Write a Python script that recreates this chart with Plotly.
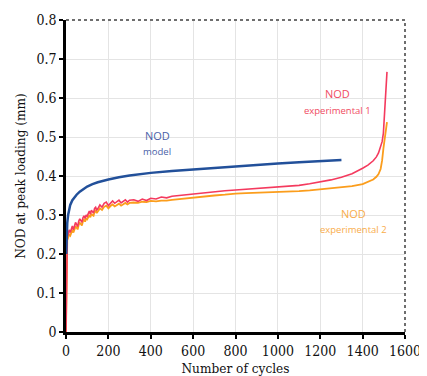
import plotly.graph_objects as go

# ---- data ----
model_cycles = [1, 3, 6, 10, 15, 20, 30, 40, 50, 65, 80, 100, 125, 150, 200, 250, 300,
                400, 500, 600, 700, 800, 900, 1000, 1100, 1200, 1300]
model_nod = [0.20, 0.25, 0.28, 0.30, 0.315, 0.326, 0.338, 0.346, 0.352, 0.36, 0.366, 0.373,
             0.379, 0.384, 0.391, 0.397, 0.401, 0.408, 0.413, 0.417, 0.421, 0.424, 0.428,
             0.432, 0.435, 0.438, 0.441]

exp_cycles = [0, 3, 6, 10, 15, 20, 25, 30, 35, 40, 45, 50, 55, 60, 65, 70, 75, 80, 85, 90,
              95, 100, 105, 110, 115, 120, 125, 130, 135, 140, 145, 150, 160, 170, 180, 190,
              200, 210, 220, 230, 240, 250, 260, 270, 280, 290, 300, 320, 340, 360, 380, 400,
              425, 450, 475, 500, 550, 600, 650, 700, 750, 800, 850, 900, 950, 1000, 1050,
              1100, 1150, 1200, 1250, 1300, 1350, 1400, 1425, 1450, 1465, 1475, 1485, 1492,
              1498, 1503, 1507, 1511, 1515]

exp1_nod = [0, 0.18, 0.245, 0.25,
            0.262, 0.255, 0.266, 0.272, 0.262, 0.27, 0.281, 0.276, 0.27, 0.284, 0.29, 0.286,
            0.281, 0.293, 0.298, 0.291, 0.3, 0.297, 0.306, 0.31, 0.302, 0.312, 0.308, 0.305,
            0.317, 0.32, 0.313, 0.316, 0.326, 0.32, 0.33, 0.333, 0.324, 0.331, 0.336, 0.33,
            0.334, 0.338, 0.331, 0.336, 0.339, 0.333, 0.338,
            0.339, 0.335, 0.341, 0.337, 0.343, 0.341, 0.346, 0.344, 0.348, 0.351, 0.354, 0.357,
            0.36, 0.362, 0.364, 0.366, 0.367, 0.369, 0.371, 0.373, 0.376, 0.38, 0.385, 0.39,
            0.397, 0.406, 0.42, 0.428, 0.439, 0.449, 0.459, 0.473, 0.488, 0.51, 0.55, 0.59,
            0.63, 0.667]

exp2_nod = [0, 0.17, 0.235, 0.242,
            0.25, 0.247, 0.257, 0.262, 0.255, 0.262, 0.27, 0.268, 0.263, 0.275, 0.28, 0.277,
            0.273, 0.284, 0.288, 0.283, 0.291, 0.289, 0.296, 0.3, 0.294, 0.303, 0.3, 0.298,
            0.308, 0.311, 0.305, 0.309, 0.317, 0.313, 0.321, 0.324, 0.317, 0.323, 0.327, 0.322,
            0.326, 0.329, 0.324, 0.328, 0.331, 0.327, 0.331,
            0.332, 0.331, 0.334, 0.333, 0.336, 0.335, 0.337, 0.337, 0.339, 0.342, 0.345, 0.347,
            0.35, 0.352, 0.355, 0.356, 0.357, 0.357, 0.358, 0.359, 0.361, 0.363, 0.366, 0.368,
            0.371, 0.374, 0.379, 0.384, 0.391, 0.398, 0.405, 0.418, 0.44, 0.47, 0.49, 0.51,
            0.53, 0.538]

x_ticks = [0, 200, 400, 600, 800, 1000, 1200, 1400, 1600]
y_ticks = [0, 0.1, 0.2, 0.3, 0.4, 0.5, 0.6, 0.7, 0.8]

BLUE = "#22509a"
RED = "#f43a5e"
ORANGE = "#fb9d1c"

fig = go.Figure()
fig.add_trace(go.Scatter(x=exp_cycles, y=exp2_nod, mode="lines",
                         line=dict(color=ORANGE, width=1.8), showlegend=False))
fig.add_trace(go.Scatter(x=exp_cycles, y=exp1_nod, mode="lines",
                         line=dict(color=RED, width=1.6), showlegend=False))
fig.add_trace(go.Scatter(x=model_cycles, y=model_nod, mode="lines",
                         line=dict(color=BLUE, width=2.5), showlegend=False))

sans = "Open Sans, Noto Sans, sans-serif"
notes = [
    ("NOD", 430, 0.505, 11, "#4a5fa8"),
    ("model", 430, 0.462, 9.5, "#4a5fa8"),
    ("NOD", 1280, 0.612, 11, "#f04b62"),
    ("experimental 1", 1280, 0.568, 9.5, "#f04b62"),
    ("NOD", 1355, 0.305, 11, "#f9ac4a"),
    ("experimental 2", 1355, 0.262, 9.5, "#f9ac4a"),
]
for t, x, y, s, c in notes:
    fig.add_annotation(x=x, y=y, text=t, showarrow=False, xref="x", yref="y",
                       font=dict(family=sans, size=s, color=c))

# gray top/right frame
fig.add_shape(type="line", xref="paper", yref="paper", x0=0, x1=1, y0=1, y1=1,
              line=dict(color="#6e6e6e", width=2, dash="dot"))
fig.add_shape(type="line", xref="paper", yref="paper", x0=1, x1=1, y0=0, y1=1,
              line=dict(color="#6e6e6e", width=2, dash="dot"))

serif = "DejaVu Serif Condensed, DejaVu Serif, serif"
# page body adds an 8px margin, so the figure is sized/offset to compensate
fig.update_layout(
    width=419, height=368,
    margin=dict(l=58, r=22, t=12, b=44, autoexpand=False),
    paper_bgcolor="white", plot_bgcolor="white",
    font=dict(family=serif, color="#111111", size=13),
    xaxis=dict(range=[0, 1600], tickvals=x_ticks, showgrid=True, gridcolor="#e4e4e4",
               gridwidth=1, showline=True, linecolor="black", linewidth=2.5,
               ticks="outside", ticklen=4, tickwidth=2, tickcolor="black",
               tickfont=dict(family=serif, size=14, color="#111111"),
               title=dict(text="Number of cycles", standoff=7,
                          font=dict(family=serif, size=13.5, color="#111111")),
               zeroline=False, automargin=False),
    yaxis=dict(range=[0, 0.8], tickvals=y_ticks, showgrid=True, gridcolor="#e4e4e4",
               gridwidth=1, showline=True, linecolor="black", linewidth=2.5,
               ticks="outside", ticklen=4, tickwidth=2, tickcolor="black",
               tickfont=dict(family=serif, size=14, color="#111111"),
               title=dict(text="NOD at peak loading (mm)", standoff=8,
                          font=dict(family=serif, size=13.5, color="#111111")),
               zeroline=False, automargin=False),
)

fig.write_html("out.html")
